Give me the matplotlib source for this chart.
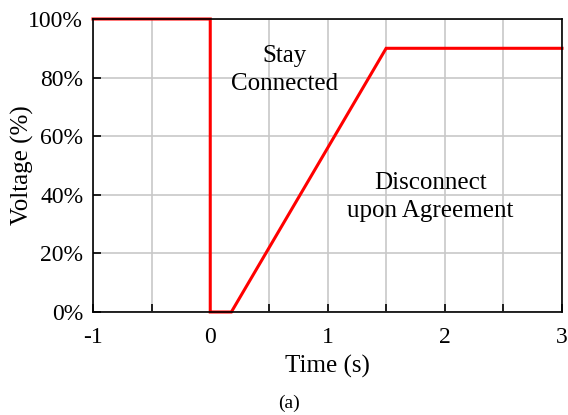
import matplotlib.pyplot as plt
from matplotlib.ticker import FuncFormatter, MultipleLocator

# profile of the voltage ride-through curve
time_s = [-1, 0, 0, 0.18, 1.5, 3]
voltage_pct = [100, 100, 0, 0, 90, 90]

x_ticks = [-1, 0, 1, 2, 3]
y_ticks = [0, 20, 40, 60, 80, 100]

plt.rcParams['font.family'] = ['Liberation Serif', 'DejaVu Serif']
plt.rcParams['axes.unicode_minus'] = False

fig = plt.figure(figsize=(5.68, 4.15), dpi=100)
ax = fig.add_axes([93 / 568, 1 - 312 / 415, (562 - 93) / 568, (312 - 19) / 415])

ax.plot(time_s, voltage_pct, color='#ff0000', lw=2.2, solid_joinstyle='miter', zorder=3, clip_on=False)

ax.set_xlim(-1, 3)
ax.set_ylim(0, 100)
ax.set_xticks(x_ticks)
ax.xaxis.set_minor_locator(MultipleLocator(0.5))
ax.set_yticks(y_ticks)
ax.yaxis.set_major_formatter(FuncFormatter(lambda v, p: f"{v:.0f}%"))
ax.grid(True, which='both', color='#c8c8c8', lw=1.2)
ax.set_axisbelow(True)

ax.tick_params(which='both', direction='in', length=6, width=1.2, labelsize=17, top=False, right=False)
ax.tick_params(axis='x', pad=11)
ax.tick_params(axis='y', pad=7)
for s in ax.spines.values():
    s.set_linewidth(1.2)
    s.set_zorder(4)

ax.set_xlabel('Time (s)', fontsize=18, labelpad=5)
ax.set_ylabel('Voltage (%)', fontsize=18)
ax.yaxis.set_label_coords(-0.126, 0.5)

ax.text(0.63, 82.6, 'Stay\nConnected', ha='center', va='center', fontsize=18, linespacing=1.38)
ax.text(1.88, 39.2, 'Disconnect\nupon Agreement', ha='center', va='center', fontsize=18, linespacing=1.38)

fig.text(289 / 568, 1 - 403 / 415, '(a)', ha='center', va='center', fontsize=14)

fig.savefig('out.png', dpi=100)
